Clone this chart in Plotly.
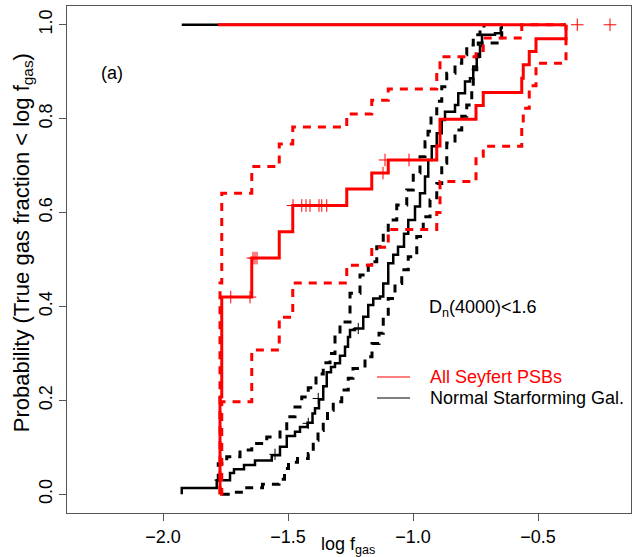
import plotly.graph_objects as go

# ---------------- data ----------------
# All Seyfert PSBs: cumulative probability steps
red_x = [-1.772, -1.765, -1.645, -1.535, -1.481, -1.265, -1.165, -1.099, -0.905, -0.892,
         -0.748, -0.719, -0.565, -0.559, -0.535, -0.508, -0.388]
red_y = [0.207, 0.420, 0.503, 0.559, 0.615, 0.650, 0.684, 0.712, 0.742, 0.799,
         0.828, 0.856, 0.886, 0.915, 0.943, 0.970, 1.000]
red_lo = [0.000, 0.197, 0.307, 0.377, 0.450, 0.488, 0.526, 0.564, 0.600, 0.666,
          0.720, 0.741, 0.790, 0.822, 0.870, 0.918, 1.000]
red_hi = [0.450, 0.641, 0.698, 0.746, 0.782, 0.810, 0.839, 0.863, 0.900, 0.932,
          0.945, 0.972, 1.000, 1.000, 1.000, 1.000, 1.000]
red_cens_x = [-1.729, -1.652, -1.640, -1.632, -1.624, -1.480, -1.445, -1.428, -1.412,
              -1.376, -1.365, -1.345, -1.120, -1.112, -1.016, -0.343, -0.212]
red_cens_y = [0.420, 0.420, 0.503, 0.503, 0.503, 0.615, 0.615, 0.615, 0.615,
              0.615, 0.615, 0.615, 0.684, 0.712, 0.712, 1.000, 1.000]

# Normal star-forming galaxies
blk_x = [-1.925, -1.785, -1.732, -1.716, -1.676, -1.632, -1.565, -1.532, -1.505, -1.472,
         -1.452, -1.422, -1.402, -1.392, -1.376, -1.359, -1.345, -1.328, -1.312, -1.292,
         -1.272, -1.260, -1.252, -1.232, -1.199, -1.179, -1.159, -1.132, -1.119, -1.099,
         -1.079, -1.060, -1.036, -1.019, -0.992, -0.972, -0.952, -0.939, -0.925, -0.905,
         -0.885, -0.872, -0.832, -0.819, -0.792, -0.772, -0.759, -0.745, -0.732, -0.724,
         -0.672, -0.649, -0.645]
blk_y = [0.013, 0.030, 0.045, 0.053, 0.062, 0.072, 0.083, 0.101, 0.124, 0.133,
         0.143, 0.152, 0.172, 0.183, 0.202, 0.230, 0.260, 0.271, 0.279, 0.295,
         0.314, 0.335, 0.350, 0.353, 0.378, 0.403, 0.417, 0.421, 0.449, 0.492,
         0.510, 0.527, 0.555, 0.584, 0.613, 0.641, 0.677, 0.712, 0.741, 0.769,
         0.797, 0.815, 0.829, 0.854, 0.879, 0.886, 0.911, 0.932, 0.955, 0.979,
         0.982, 0.993, 1.000]
bhi_x = [-1.785, -1.779, -1.745, -1.692, -1.645, -1.585, -1.532, -1.505, -1.472, -1.445,
         -1.419, -1.388, -1.359, -1.332, -1.312, -1.292, -1.252, -1.212, -1.179, -1.145,
         -1.119, -1.099, -1.065, -1.025, -0.999, -0.972, -0.952, -0.940, -0.928, -0.905,
         -0.885, -0.865, -0.832, -0.805, -0.785, -0.759, -0.732, -0.716]
bhi_y = [0.030, 0.065, 0.080, 0.094, 0.108, 0.122, 0.136, 0.165, 0.186, 0.207,
         0.227, 0.256, 0.280, 0.300, 0.339, 0.367, 0.428, 0.467, 0.495, 0.527,
         0.556, 0.584, 0.616, 0.648, 0.684, 0.719, 0.751, 0.773, 0.805, 0.837,
         0.868, 0.897, 0.918, 0.936, 0.957, 0.979, 0.990, 1.000]
blo_x = [-1.765, -1.719, -1.665, -1.602, -1.536, -1.514, -1.498, -1.462, -1.419, -1.399,
         -1.380, -1.359, -1.342, -1.319, -1.285, -1.259, -1.240, -1.192, -1.164, -1.136,
         -1.119, -1.099, -1.072, -1.045, -1.019, -0.985, -0.959, -0.932, -0.905, -0.885,
         -0.865, -0.832, -0.805, -0.785, -0.765, -0.759, -0.745, -0.739, -0.645]
blo_y = [0.000, 0.004, 0.014, 0.021, 0.032, 0.055, 0.068, 0.076, 0.087, 0.115,
         0.136, 0.158, 0.179, 0.197, 0.222, 0.247, 0.268, 0.293, 0.321, 0.343,
         0.378, 0.417, 0.449, 0.478, 0.506, 0.549, 0.591, 0.627, 0.662, 0.705,
         0.748, 0.776, 0.805, 0.829, 0.868, 0.904, 0.932, 0.961, 1.000]
blk_cens_x = [-1.772, -1.552, -1.419, -1.379, -1.219]
blk_cens_y = [0.030, 0.085, 0.151, 0.204, 0.353]

x_ticks = [-2.0, -1.5, -1.0, -0.5]
y_ticks = [0.0, 0.2, 0.4, 0.6, 0.8, 1.0]

RED = "#ff0000"
BLK = "#000000"
DASH = "8px,7px"
FONT = "Liberation Sans, Arial, Helvetica, sans-serif"

fig = go.Figure()

# black: top line, bands, curve
fig.add_trace(go.Scatter(x=[blk_x[0], blk_x[-1]], y=[1, 1], mode="lines",
                         line=dict(color=BLK, width=2.5), showlegend=False))
fig.add_trace(go.Scatter(x=bhi_x, y=bhi_y, mode="lines", line_shape="hv",
                         line=dict(color=BLK, width=3, dash=DASH), showlegend=False))
fig.add_trace(go.Scatter(x=blo_x, y=blo_y, mode="lines", line_shape="hv",
                         line=dict(color=BLK, width=3, dash=DASH), showlegend=False))
fig.add_trace(go.Scatter(x=[blk_x[0]] + blk_x, y=[0] + blk_y, mode="lines", line_shape="hv",
                         line=dict(color=BLK, width=2.5), showlegend=False))
fig.add_trace(go.Scatter(x=blk_cens_x, y=blk_cens_y, mode="markers",
                         marker=dict(symbol="cross-thin", size=8, line=dict(color=BLK, width=1)),
                         showlegend=False))

# red: bands, curve, top line
fig.add_trace(go.Scatter(x=[red_x[0]] + red_x, y=[0] + red_hi, mode="lines", line_shape="hv",
                         line=dict(color=RED, width=3, dash=DASH), showlegend=False))
fig.add_trace(go.Scatter(x=[red_x[0]] + red_x, y=[0] + red_lo, mode="lines", line_shape="hv",
                         line=dict(color=RED, width=3, dash=DASH), showlegend=False))
fig.add_trace(go.Scatter(x=[red_x[0]] + red_x, y=[0] + red_y, mode="lines", line_shape="hv",
                         line=dict(color=RED, width=3), showlegend=False))
fig.add_trace(go.Scatter(x=[red_x[0] - 0.008, red_x[-1]], y=[1, 1], mode="lines",
                         line=dict(color=RED, width=3), showlegend=False))
fig.add_trace(go.Scatter(x=red_cens_x, y=red_cens_y, mode="markers",
                         marker=dict(symbol="cross-thin", size=9, line=dict(color=RED, width=1)),
                         showlegend=False))

axis_common = dict(showgrid=False, zeroline=False, showline=True, mirror=True,
                   linecolor="#555555", linewidth=1, ticks="outside", ticklen=7,
                   tickwidth=1, tickcolor="#555555",
                   tickfont=dict(family=FONT, size=18, color="black"))

fig.update_xaxes(range=[-2.384, -0.128], tickvals=x_ticks,
                 ticktext=[f"\u2212{abs(v):.1f}" for v in x_ticks], **axis_common)
fig.update_yaxes(range=[-0.04, 1.04], tickvals=y_ticks,
                 ticktext=[f"{v:.1f}" for v in y_ticks], tickangle=-90, **axis_common)

ann_font = dict(family=FONT, size=18, color="black")
fig.add_annotation(xref="paper", yref="paper", x=0.498, y=-0.064, text="log f<sub>gas</sub>",
                   showarrow=False, xanchor="center", yanchor="middle", font=ann_font)
fig.add_annotation(xref="paper", yref="paper", x=-0.078, y=0.532,
                   text="Probability (True gas fraction &lt; log f<sub>gas</sub>)",
                   textangle=-90, showarrow=False, xanchor="center", yanchor="middle",
                   font=dict(family=FONT, size=22, color="black"))
fig.add_annotation(xref="paper", yref="paper", x=0.0798, y=0.868, text="(a)",
                   showarrow=False, xanchor="center", yanchor="middle", font=ann_font)
fig.add_annotation(xref="paper", yref="paper", x=0.638, y=0.4043,
                   text="D<sub>n</sub>(4000)&lt;1.6",
                   showarrow=False, xanchor="left", yanchor="middle", font=ann_font)
# legend (drawn manually, R style)
fig.add_shape(type="line", xref="paper", yref="paper", x0=0.5496, x1=0.6082,
              y0=0.2682, y1=0.2682, line=dict(color=RED, width=1.2))
fig.add_shape(type="line", xref="paper", yref="paper", x0=0.5496, x1=0.6082,
              y0=0.2268, y1=0.2268, line=dict(color=BLK, width=1.2))
fig.add_annotation(xref="paper", yref="paper", x=0.640, y=0.2682, text="All Seyfert PSBs",
                   showarrow=False, xanchor="left", yanchor="middle",
                   font=dict(family=FONT, size=18, color=RED))
fig.add_annotation(xref="paper", yref="paper", x=0.640, y=0.2268,
                   text="Normal Starforming Gal.",
                   showarrow=False, xanchor="left", yanchor="middle",
                   font=dict(family=FONT, size=18, color="black"))

fig.update_layout(width=640, height=557, margin=dict(l=67, r=9, t=6, b=44),
                  paper_bgcolor="white", plot_bgcolor="white", showlegend=False,
                  font=dict(family=FONT, size=18, color="black"))

fig.write_html("out.html")
